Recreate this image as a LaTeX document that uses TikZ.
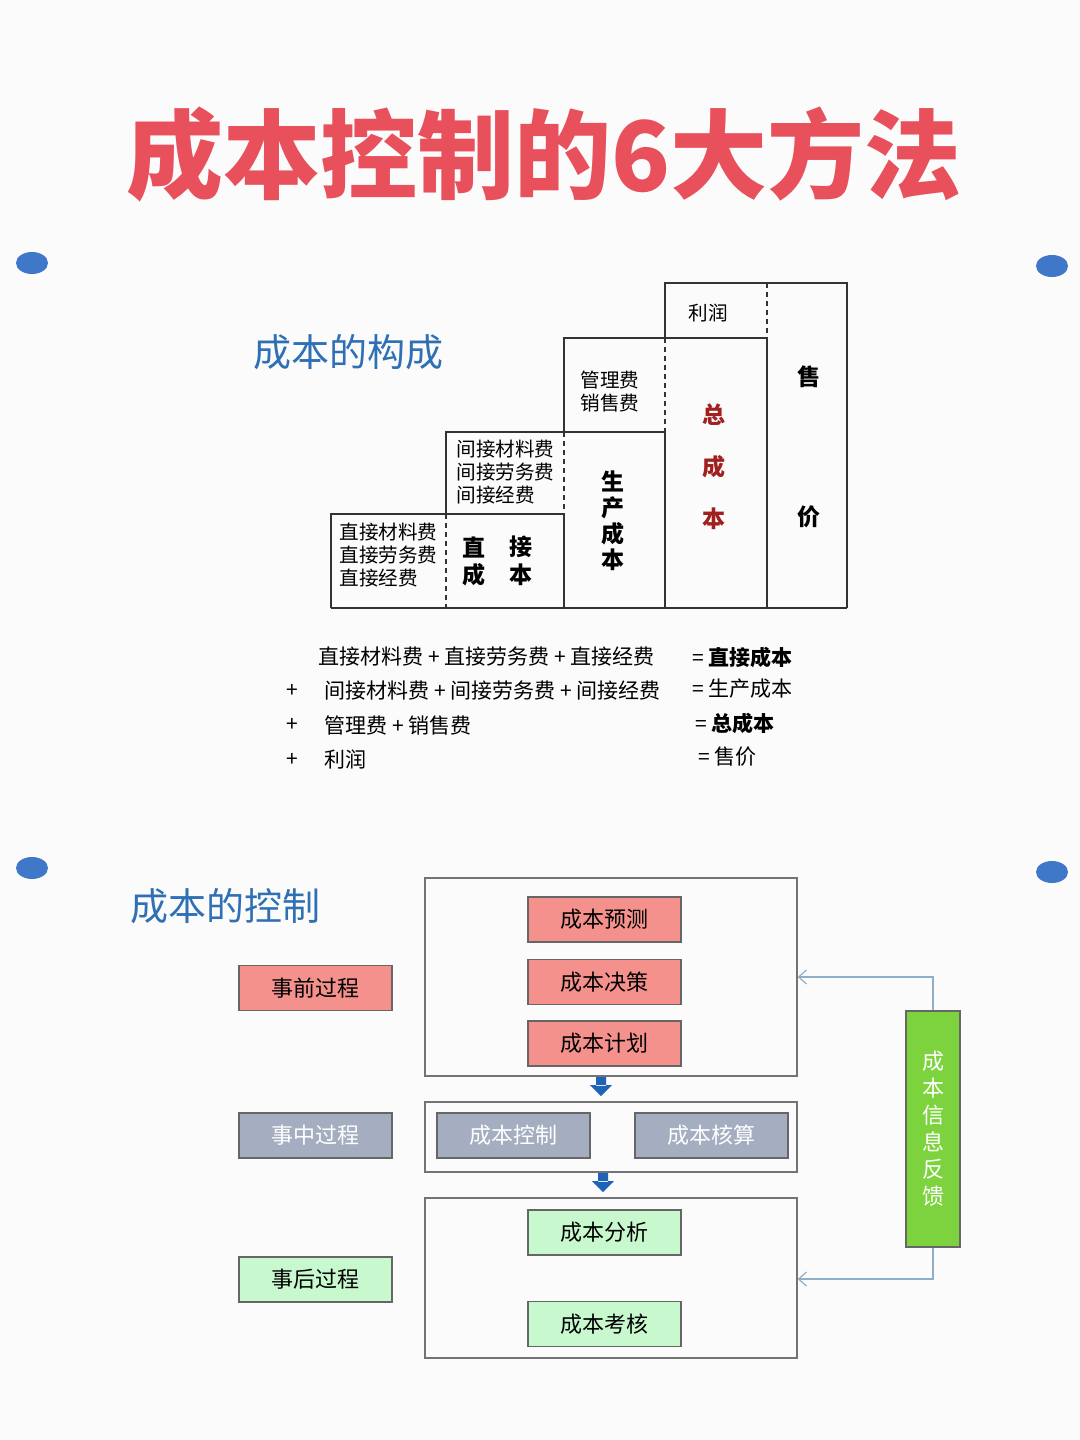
\documentclass[tikz,border=0pt]{standalone}
\usepackage{fontspec}
\setmainfont{Noto Sans CJK SC}
\usetikzlibrary{arrows.meta}
\definecolor{bg}{HTML}{FBFBFB}
\definecolor{ttl}{HTML}{E8505B}
\definecolor{sub}{HTML}{2F70B5}
\definecolor{redf}{HTML}{F4918D}
\definecolor{grayf}{HTML}{A4AEC0}
\definecolor{greenf}{HTML}{C8F8CE}
\definecolor{fb}{HTML}{7DD33E}
\definecolor{dred}{HTML}{A02020}
\definecolor{blob}{HTML}{3F78C8}
\definecolor{fline}{HTML}{8FAFC8}
\definecolor{arr}{HTML}{1F63B8}
\tikzset{
  ln/.style={line width=0.7pt,black!80},
  dl/.style={ln,dashed,dash pattern=on 2.5pt off 2pt},
  cbox/.style={draw=black!60,line width=0.6pt,minimum width=76.5pt,minimum height=22.5pt,inner sep=0pt,font=\fontsize{11}{12}\selectfont},
  frame/.style={draw=black!55,line width=0.6pt},
  txt/.style={font=\fontsize{9.8}{11.5}\selectfont,inner sep=0pt},
  big/.style={font=\fontsize{11.5}{12}\selectfont\bfseries,inner sep=0pt},
}
\begin{document}
\begin{tikzpicture}[x=0.5pt,y=-0.5pt]
\fill[bg] (0,0) rectangle (1080,1440);
\useasboundingbox (0,0) rectangle (1080,1440);
% title
\node (title) [inner sep=0,text=ttl,font=\fontsize{48.5}{52}\selectfont\bfseries] at (544,155) {成本控制的6大方法};
% blobs
\foreach \p/\q in {32/263,1052/266,32/868,1052/872}
  \fill[blob] (\p,\q) ellipse [x radius=8pt,y radius=5.5pt];
% section titles
\node (t1) [inner sep=0,text=sub,font=\fontsize{19}{20}\selectfont] at (348,352) {成本的构成};
\node (t2) [inner sep=0,text=sub,font=\fontsize{19}{20}\selectfont] at (225,906) {成本的控制};
% staircase
\draw[ln] (331,608) -- (331,514) -- (564,514);
\draw[ln] (446,514) -- (446,432) -- (665,432);
\draw[ln] (564,608) -- (564,514);
\draw[ln] (564,432) -- (564,338) -- (767,338);
\draw[ln] (665,608) -- (665,432);
\draw[ln] (665,338) -- (665,283) -- (847,283) -- (847,608);
\draw[ln] (767,608) -- (767,338);
\draw[ln] (331,608) -- (847,608);
\draw[dl] (446,514) -- (446,608);
\draw[dl] (564,432) -- (564,514);
\draw[dl] (665,338) -- (665,432);
\draw[dl] (767,283) -- (767,338);
\node (d1) [txt,align=left,anchor=west] at (339,555) {直接材料费\\直接劳务费\\直接经费};
\node (d2) [big] at (474,547) {直}; \node [big] at (521,547) {接};
\node [big] at (474,575) {成}; \node [big] at (521,575) {本};
\node (i1) [txt,align=left,anchor=west] at (456,472) {间接材料费\\间接劳务费\\间接经费};
\node (sc) [big,align=center] at (613,521) {生\\[1pt]产\\[1pt]成\\[1pt]本};
\node (gl) [txt,align=left,anchor=west] at (580,392) {管理费\\销售费};
\node (zc) [big,text=dred,align=center] at (714,467) {总\\[14pt]成\\[14pt]本};
\node (lr) [txt] at (708,313) {利润};
\node (sj1) [big] at (809,377) {售};
\node (sj2) [big] at (809,517) {价};
% formulas
\tikzset{fm/.style={inner sep=0,anchor=west,font=\fontsize{10.5}{12}\selectfont}}
\node[fm] at (318,657) {直接材料费 + 直接劳务费 + 直接经费};
\node[fm] at (692,657) {= \textbf{直接成本}};
\node[fm] at (286,691) {+};
\node[fm] at (324,691) {间接材料费 + 间接劳务费 + 间接经费};
\node[fm] at (692,689) {= 生产成本};
\node[fm] at (286,725) {+};
\node[fm] at (324,725) {管理费 + 销售费};
\node[fm] at (695,723) {= \textbf{总成本}};
\node[fm] at (286,760) {+};
\node[fm] at (324,759) {利润};
\node[fm] at (698,757) {= 售价};
% control section
\node (f1) [frame,minimum width=186pt,minimum height=99pt,inner sep=0] at (611,977) {};
\node (f2) [frame,minimum width=186pt,minimum height=35pt,inner sep=0] at (611,1137) {};
\node (f3) [frame,minimum width=186pt,minimum height=80pt,inner sep=0] at (611,1278) {};
\node (a1) [cbox,fill=redf] at (604.5,919.5) {成本预测};
\node (a2) [cbox,fill=redf] at (604.5,982) {成本决策};
\node (a3) [cbox,fill=redf] at (604.5,1043.5) {成本计划};
\node (b1) [cbox,fill=grayf,text=white] at (513.5,1135.5) {成本控制};
\node (b2) [cbox,fill=grayf,text=white] at (711.5,1135.5) {成本核算};
\node (c1) [cbox,fill=greenf] at (604.5,1232.5) {成本分析};
\node (c2) [cbox,fill=greenf] at (604.5,1324) {成本考核};
\node (p1) [cbox,fill=redf] at (315.5,988) {事前过程};
\node (p2) [cbox,fill=grayf,text=white] at (315.5,1135.5) {事中过程};
\node (p3) [cbox,fill=greenf] at (315.5,1279.5) {事后过程};
\node (fbk) [draw=black!60,line width=0.6pt,fill=fb,minimum width=27pt,minimum height=118pt,inner sep=0,text=white,align=center,font=\fontsize{11}{13.5}\selectfont] at (933,1129) {成\\本\\信\\息\\反\\馈};
\fill[arr] (596,1077) rectangle (606,1086) (590,1085) -- (612,1085) -- (601,1096) -- cycle;
\fill[arr] (598,1173) rectangle (608,1182) (592,1181) -- (614,1181) -- (603,1192) -- cycle;
\draw[fline,line width=0.6pt,-{Straight Barb[length=4pt,width=7pt]}] (fbk.north) |- (f1.east |- 0,977);
\draw[fline,line width=0.6pt,-{Straight Barb[length=4pt,width=7pt]}] (fbk.south) |- (f3.east |- 0,1279);
\end{tikzpicture}
\end{document}
